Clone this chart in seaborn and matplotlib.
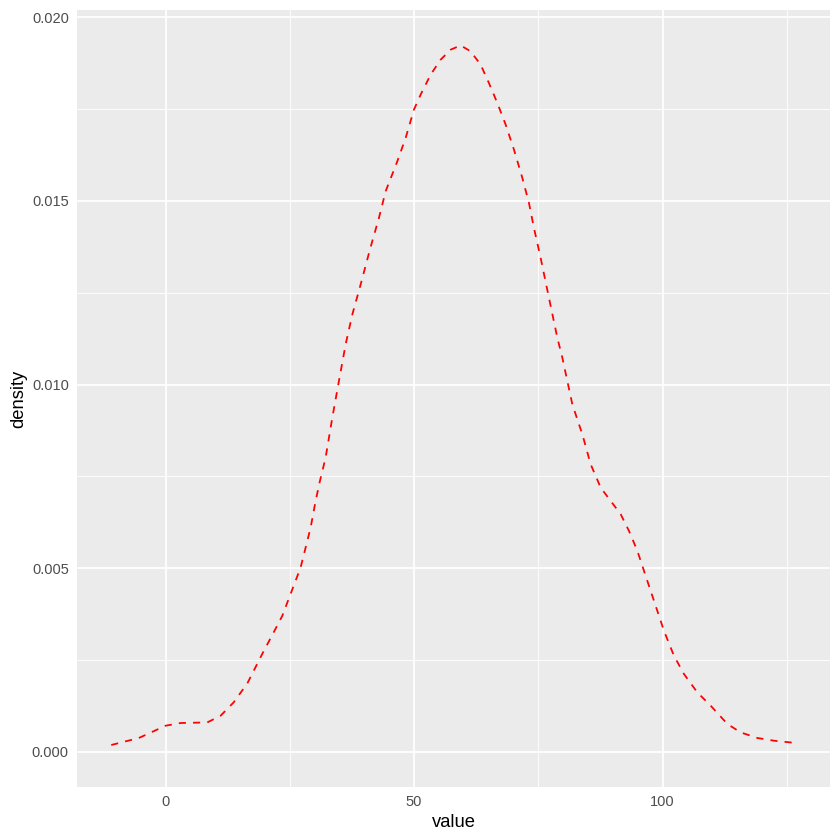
import numpy as np
import pandas as pd
import matplotlib
matplotlib.use("Agg")
import matplotlib.pyplot as plt
import seaborn as sns

# density curve (x = value, y = density)
value = [-10.93, -5.37, 0.00, 3.02, 8.39, 11.07, 13.68, 16.44, 19.46, 21.73,
         23.48, 25.15, 27.16, 29.18, 30.18, 31.05, 32.19, 33.54, 34.87, 36.22,
         37.57, 39.24, 41.11, 42.92, 44.27, 46.62, 48.29, 49.96, 51.31, 53.32,
         55.33, 57.34, 59.36, 61.37, 63.38, 65.05, 66.74, 68.41, 70.08, 71.77,
         73.10, 74.10, 75.45, 77.12, 78.81, 79.82, 80.82, 81.83, 83.16, 83.84,
         85.51, 87.53, 89.54, 91.55, 93.22, 94.91, 96.24, 98.25, 100.26, 102.27,
         104.29, 106.98, 109.66, 113.02, 115.69, 119.05, 122.39, 126.76]
density = [0.000182, 0.000373, 0.000707, 0.000781, 0.000797, 0.000980, 0.001341,
           0.001859, 0.002667, 0.003246, 0.003701, 0.004299, 0.005015, 0.006103,
           0.006830, 0.007374, 0.008008, 0.009097, 0.010095, 0.011094, 0.011910,
           0.012726, 0.013679, 0.014539, 0.015265, 0.016082, 0.016716, 0.017488,
           0.017897, 0.018441, 0.018849, 0.019121, 0.019238, 0.019075, 0.018713,
           0.018212, 0.017668, 0.017080, 0.016400, 0.015627, 0.014947, 0.014267,
           0.013450, 0.012362, 0.011273, 0.010729, 0.010095, 0.009461, 0.008917,
           0.008645, 0.007829, 0.007192, 0.006830, 0.006468, 0.006014, 0.005469,
           0.004925, 0.004109, 0.003293, 0.002612, 0.002114, 0.001614, 0.001252,
           0.000754, 0.000525, 0.000373, 0.000299, 0.000237]

x_ticks = [0, 50, 100]
x_minor = [25, 75, 125]
y_ticks = [0.000, 0.005, 0.010, 0.015, 0.020]
y_minor = [0.0025, 0.0075, 0.0125, 0.0175]

df = pd.DataFrame({"value": value, "density": density})

# ggplot-like grey theme
sns.set_theme(style="darkgrid", rc={
    "axes.facecolor": "#EBEBEB",
    "grid.color": "white",
    "axes.edgecolor": "none",
})
plt.rcParams["font.family"] = ["Liberation Sans", "DejaVu Sans"]

fig, ax = plt.subplots(figsize=(7, 7), dpi=120)
fig.subplots_adjust(left=0.0917, right=0.988, bottom=0.0631, top=0.988)

sns.lineplot(data=df, x="value", y="density", color="red", linewidth=1.07,
             sort=False, ax=ax)
ax.lines[0].set_dashes([4, 4])

# 5% expansion like ggplot (density area includes 0)
xr = max(value) - min(value)
ax.set_xlim(min(value) - 0.05 * xr, max(value) + 0.05 * xr)
yr = max(density)
ax.set_ylim(-0.05 * yr, max(density) + 0.05 * yr)

ax.set_xticks(x_ticks)
ax.set_xticks(x_minor, minor=True)
ax.set_yticks(y_ticks)
ax.set_yticks(y_minor, minor=True)
ax.set_yticklabels([f"{v:.3f}" for v in y_ticks])
ax.grid(which="major", color="white", linewidth=1.07)
ax.grid(which="minor", color="white", linewidth=0.53)
ax.tick_params(which="major", length=2.75, width=1.07, color="#333333",
               labelsize=8.8, labelcolor="#4D4D4D", pad=2.2)
ax.tick_params(which="minor", length=0)
for s in ax.spines.values():
    s.set_visible(False)

ax.set_xlabel("value", fontsize=11, color="black", labelpad=2.75)
ax.set_ylabel("density", fontsize=11, color="black", labelpad=2.75)

fig.savefig("out.png", dpi=120)
